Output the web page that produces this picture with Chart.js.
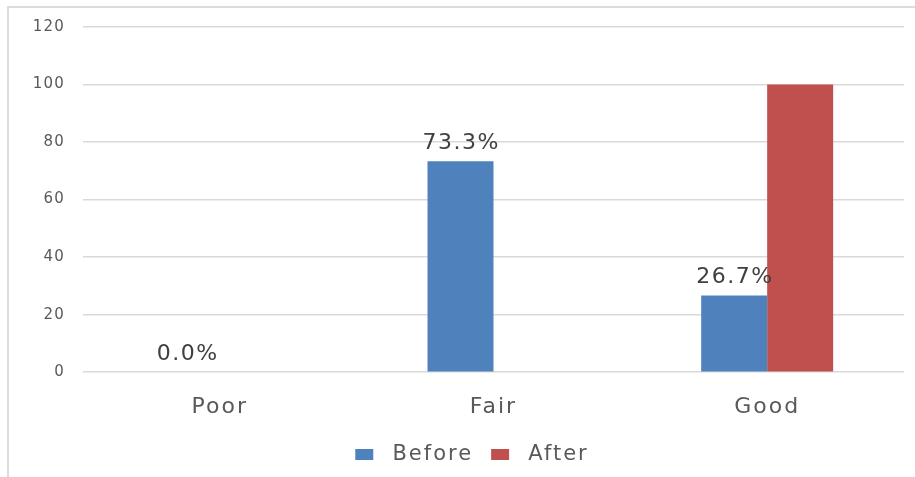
<!DOCTYPE html>
<html>
<head>
<meta charset="utf-8">
<script src="https://cdn.jsdelivr.net/npm/chart.js@4"></script>
<style>
  html, body { margin: 0; padding: 0; background: #ffffff; overflow: hidden; }
  #frame { position: absolute; left: 7px; top: 6px; width: 930px; height: 490px; border: 2px solid #dcdcdc; box-sizing: border-box; }
  #c { position: absolute; left: 0; top: 0; }
</style>
</head>
<body>
<div id="frame"></div>
<canvas id="c" width="915" height="477"></canvas>
<script>
const categories = ['Poor', 'Fair', 'Good'];
const seriesNames = ['Before', 'After'];
const beforeValues = [0, 73.3, 26.7];
const afterValues = [0, 0, 100];
const yTicks = [0, 20, 40, 60, 80, 100, 120];

const FONT = "'DejaVu Sans', Verdana, sans-serif";
const LEGEND_SPACING = '2px';
const SCALE_SPACING = { x: '2px', y: '1.2px' };

const spacingPlugin = {
  id: 'spacing',
  beforeLayout(chart) { chart.ctx.letterSpacing = LEGEND_SPACING; },
  beforeDraw(chart) {
    chart.ctx.letterSpacing = LEGEND_SPACING;
    Object.keys(chart.scales).forEach(id => {
      const scale = chart.scales[id];
      if (scale._lsWrapped) return;
      const orig = scale.drawLabels.bind(scale);
      scale._computeLabelArea = function () { return undefined; };
      scale.drawLabels = function (area) {
        const ctx = this.ctx;
        const prev = ctx.letterSpacing;
        ctx.letterSpacing = SCALE_SPACING[id] || '0px';
        orig(area);
        ctx.letterSpacing = prev;
      };
      scale._lsWrapped = true;
    });
  }
};

const labelPlugin = {
  id: 'barLabels',
  afterDatasetsDraw(chart) {
    const ctx = chart.ctx;
    const meta = chart.getDatasetMeta(0);
    ctx.save();
    ctx.letterSpacing = '1.5px';
    ctx.font = "22px " + FONT;
    ctx.fillStyle = '#404040';
    ctx.textAlign = 'center';
    ctx.textBaseline = 'alphabetic';
    meta.data.forEach((bar, i) => {
      const v = chart.data.datasets[0].data[i];
      ctx.fillText(v.toFixed(1) + '%', bar.x + 0.75, bar.y - 12);
    });
    ctx.restore();
  }
};

new Chart(document.getElementById('c'), {
  type: 'bar',
  data: {
    labels: categories,
    datasets: [
      { label: seriesNames[0], data: beforeValues, backgroundColor: '#4F81BD', categoryPercentage: 0.4823, barPercentage: 1 },
      { label: seriesNames[1], data: afterValues, backgroundColor: '#C0504D', categoryPercentage: 0.4823, barPercentage: 1 }
    ]
  },
  options: {
    responsive: false,
    animation: false,
    devicePixelRatio: 1,
    layout: { padding: { left: 40, right: 11, top: 24.4, bottom: 2 } },
    plugins: {
      tooltip: { enabled: false },
      legend: {
        position: 'bottom',
        labels: {
          color: '#595959',
          font: { family: FONT, size: 21 },
          boxWidth: 18,
          boxHeight: 11,
          padding: 18,
          generateLabels(chart) {
            const items = Chart.defaults.plugins.legend.labels.generateLabels(chart);
            items.forEach(it => { it.text = ' ' + it.text; it.lineWidth = 0; });
            return items;
          }
        }
      }
    },
    scales: {
      x: {
        afterFit(scale) { scale.height = 53.8; },
        grid: { display: false, drawTicks: false },
        border: { display: false },
        ticks: { color: '#595959', font: { family: FONT, size: 22 }, padding: 22 }
      },
      y: {
        min: 0,
        max: 120,
        afterFit(scale) { scale.width = 43; },
        afterBuildTicks(scale) { scale.ticks = yTicks.map(v => ({ value: v })); },
        grid: { color: '#d9d9d9', lineWidth: 1.5, drawTicks: false },
        border: { display: false },
        ticks: { color: '#595959', font: { family: FONT, size: 15 }, padding: 18 }
      }
    }
  },
  plugins: [spacingPlugin, labelPlugin]
});
</script>
</body>
</html>
